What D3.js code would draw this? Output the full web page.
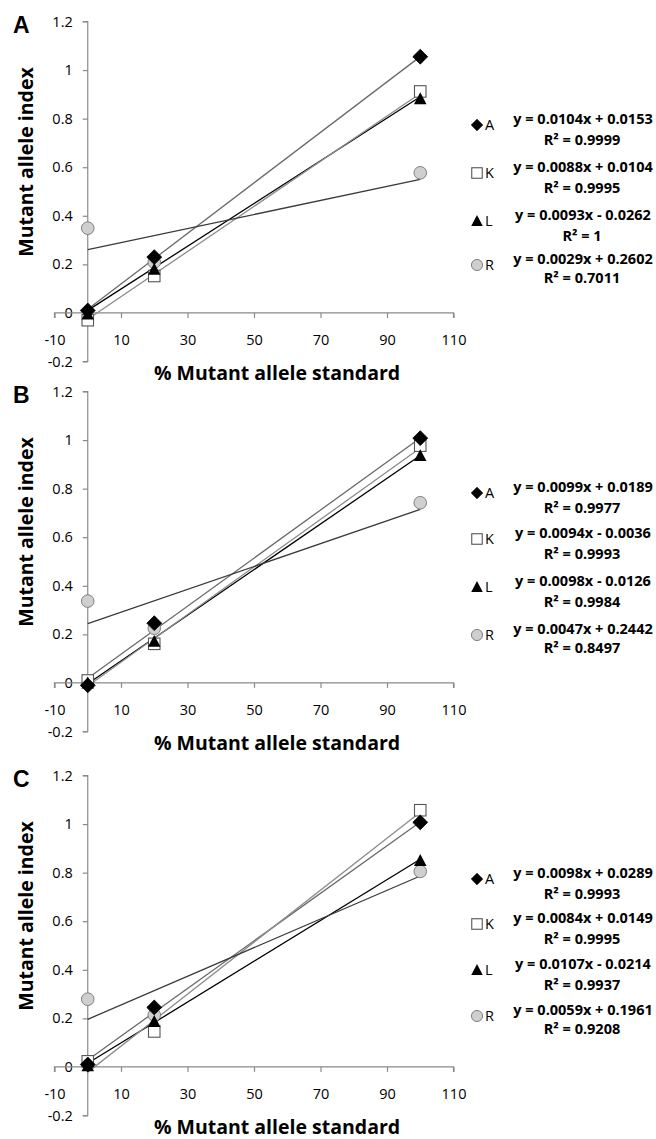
<!DOCTYPE html>
<html>
<head>
<meta charset="utf-8">
<script src="https://cdn.jsdelivr.net/npm/d3@7"></script>
<style>
html,body{margin:0;padding:0;background:#fff;}
svg{display:block;}
</style>
</head>
<body>
<svg id="chart" width="656" height="1139"></svg>
<script>
// ---- data ----
const panelLabels = ["A", "B", "C"];
const seriesNames = ["A", "K", "L", "R"];
const xStandards = [0, 20, 100];
const xTicks = [-10, 10, 30, 50, 70, 90, 110];
const yTicks = [-0.2, 0, 0.2, 0.4, 0.6, 0.8, 1, 1.2];
const xTitle = "% Mutant allele standard";
const yTitle = "Mutant allele index";

// Panel A
const panelA_A = [0.01, 0.23, 1.055];
const panelA_K = [-0.03, 0.152, 0.912];
const panelA_L = [-0.005, 0.18, 0.882];
const panelA_R = [0.349, 0.209, 0.577];
const slopesA = [0.0104, 0.0088, 0.0093, 0.0029];
const interceptsA = [0.0153, 0.0104, -0.0262, 0.2602];
const r2A = ["0.9999", "0.9995", "1", "0.7011"];

// Panel B
const panelB_A = [-0.01, 0.246, 1.008];
const panelB_K = [0.01, 0.161, 0.977];
const panelB_L = [0.0, 0.171, 0.936];
const panelB_R = [0.337, 0.225, 0.742];
const slopesB = [0.0099, 0.0094, 0.0098, 0.0047];
const interceptsB = [0.0189, -0.0036, -0.0126, 0.2442];
const r2B = ["0.9977", "0.9993", "0.9984", "0.8497"];

// Panel C
const panelC_A = [0.01, 0.245, 1.007];
const panelC_K = [0.023, 0.146, 1.057];
const panelC_L = [0.005, 0.187, 0.85];
const panelC_R = [0.279, 0.214, 0.805];
const slopesC = [0.0098, 0.0084, 0.0107, 0.0059];
const interceptsC = [0.0289, 0.0149, -0.0214, 0.1961];
const r2C = ["0.9993", "0.9995", "0.9937", "0.9208"];

const panels = [
  {label: panelLabels[0], values: [panelA_A, panelA_K, panelA_L, panelA_R], slopes: slopesA, intercepts: interceptsA, r2: r2A},
  {label: panelLabels[1], values: [panelB_A, panelB_K, panelB_L, panelB_R], slopes: slopesB, intercepts: interceptsB, r2: r2B},
  {label: panelLabels[2], values: [panelC_A, panelC_K, panelC_L, panelC_R], slopes: slopesC, intercepts: interceptsC, r2: r2C}
];

// ---- layout ----
const panelOffsets = [0, 370, 754];
const legendRows = [[119, 167, 215, 259], [117, 163, 211, 259], [119, 164, 210, 256]];
const x = d3.scaleLinear().domain([-10, 110]).range([54.5, 453.5]);
const y = d3.scaleLinear().domain([-0.2, 1.2]).range([361.5, 21.5]);

const axisColor = "#8a8a8a";
const lineColors = ["#6a6a6a", "#8c8c8c", "#000000", "#3a3a3a"];
const tickFont = "'Open Sans', sans-serif";
const titleFont = "'Open Sans', sans-serif";
const hyphen = s => s.replace("\u2212", "-");

const svg = d3.select("#chart");

function drawMarker(g, type, cx, cy, s) {
  if (type === "A") {
    g.append("path")
      .attr("d", d3.symbol(d3.symbolSquare, s * s)())
      .attr("transform", `translate(${cx},${cy}) rotate(45)`)
      .attr("fill", "#000").attr("stroke", "#000").attr("stroke-width", 0.8);
  } else if (type === "K") {
    g.append("rect")
      .attr("x", cx - s / 2).attr("y", cy - s / 2).attr("width", s).attr("height", s)
      .attr("fill", "#fff").attr("stroke", "#555").attr("stroke-width", 1.1);
  } else if (type === "L") {
    const h = s * 0.95;
    g.append("path")
      .attr("d", `M${cx},${cy - h / 2 - 1}L${cx + s / 2 + 0.5},${cy + h / 2}L${cx - s / 2 - 0.5},${cy + h / 2}Z`)
      .attr("fill", "#000");
  } else {
    g.append("circle")
      .attr("cx", cx).attr("cy", cy).attr("r", s / 2 + 0.3)
      .attr("fill", "#cfcfcf").attr("stroke", "#808080").attr("stroke-width", 1);
  }
}

// which series' markers each trendline fits best (for line colour)
function permutations(arr) {
  if (arr.length <= 1) return [arr];
  return arr.flatMap((v, i) => permutations(arr.filter((_, j) => j !== i)).map(p => [v, ...p]));
}
function fitAssignment(p) {
  const sse = (m, b, vals) => d3.sum(vals, (v, i) => (m * xStandards[i] + b - v) ** 2);
  let best = null, bestCost = Infinity;
  permutations([0, 1, 2, 3]).forEach(perm => {
    const c = d3.sum(perm, (s, e) => sse(p.slopes[e], p.intercepts[e], p.values[s]));
    if (c < bestCost) { bestCost = c; best = perm; }
  });
  return best;
}

panels.forEach((p, pi) => {
  const g = svg.append("g").attr("transform", `translate(0,${panelOffsets[pi]})`);

  // panel letter
  g.append("text").attr("x", 13).attr("y", 33)
    .attr("font-family", "'Liberation Sans', Arial, sans-serif")
    .attr("font-weight", "bold").attr("font-size", 23).text(p.label);

  // y axis at x = 0
  const yAxis = d3.axisLeft(y).tickValues(yTicks).tickSize(5).tickPadding(10)
    .tickFormat(d => hyphen(d3.format("~g")(d)));
  const ya = g.append("g").attr("transform", `translate(${x(0)},0)`).call(yAxis);
  // x axis at y = 0
  const xAxis = d3.axisBottom(x).tickValues(xTicks).tickSize(5).tickPadding(17)
    .tickFormat(d => hyphen(d3.format("d")(d)));
  const xa = g.append("g").attr("transform", `translate(0,${y(0)})`).call(xAxis);

  [ya, xa].forEach(a => {
    a.select(".domain").attr("stroke", axisColor).attr("stroke-width", 1.2);
    a.selectAll(".tick line").attr("stroke", axisColor).attr("stroke-width", 1.2);
    a.selectAll(".tick text").attr("fill", "#000")
      .attr("font-family", tickFont).attr("font-size", 14.5);
  });
  ya.select(".domain").attr("d", `M-5,${y(1.2)}H0V${y(-0.2)}H-5`);
  xa.select(".domain").attr("d", `M${x(-10)},5V0H${x(110)}V5`);

  // axis titles
  g.append("text")
    .attr("transform", `translate(${33},${162}) rotate(-90)`)
    .attr("text-anchor", "middle")
    .attr("font-family", titleFont).attr("font-weight", "bold").attr("font-size", 19.5)
    .attr("fill", "#000").text(yTitle);
  g.append("text")
    .attr("x", 277).attr("y", 379.5).attr("text-anchor", "middle")
    .attr("font-family", titleFont).attr("font-weight", "bold").attr("font-size", 19.5)
    .attr("fill", "#000").text(xTitle);

  // trendlines
  const assign = fitAssignment(p);
  seriesNames.forEach((s, ei) => {
    const m = p.slopes[ei], b = p.intercepts[ei];
    g.append("line")
      .attr("x1", x(0)).attr("y1", y(b))
      .attr("x2", x(100)).attr("y2", y(m * 100 + b))
      .attr("stroke", lineColors[assign[ei]]).attr("stroke-width", 1.3);
  });

  // markers (draw R first so black markers sit on top)
  [3, 1, 2, 0].forEach(si => {
    const s = seriesNames[si];
    p.values[si].forEach((v, i) => {
      drawMarker(g, s, x(xStandards[i]), y(v), s === "A" ? 10.5 : (s === "R" ? 12 : 11.5));
    });
  });

  // legend with trendline equations
  seriesNames.forEach((s, si) => {
    const ey = legendRows[pi][si];
    drawMarker(g, s, 477, ey + 6, s === "A" ? 8 : 10.5);
    g.append("text").attr("x", 485).attr("y", ey + 11)
      .attr("font-family", tickFont).attr("font-size", 14.5).attr("fill", "#000").text(s);
    const m = p.slopes[si], b = p.intercepts[si];
    const eq = `y = ${m.toFixed(4)}x ${b < 0 ? "-" : "+"} ${Math.abs(b).toFixed(4)}`;
    g.append("text").attr("x", 583).attr("y", ey + 5).attr("text-anchor", "middle")
      .attr("font-family", tickFont).attr("font-weight", "bold").attr("font-size", 14.5)
      .attr("fill", "#000").text(eq);
    g.append("text").attr("x", 582).attr("y", ey + (si === 3 ? 24 : 26)).attr("text-anchor", "middle")
      .attr("font-family", tickFont).attr("font-weight", "bold").attr("font-size", 14.5)
      .attr("fill", "#000").text(`R² = ${p.r2[si]}`);
  });
});
</script>
</body>
</html>
